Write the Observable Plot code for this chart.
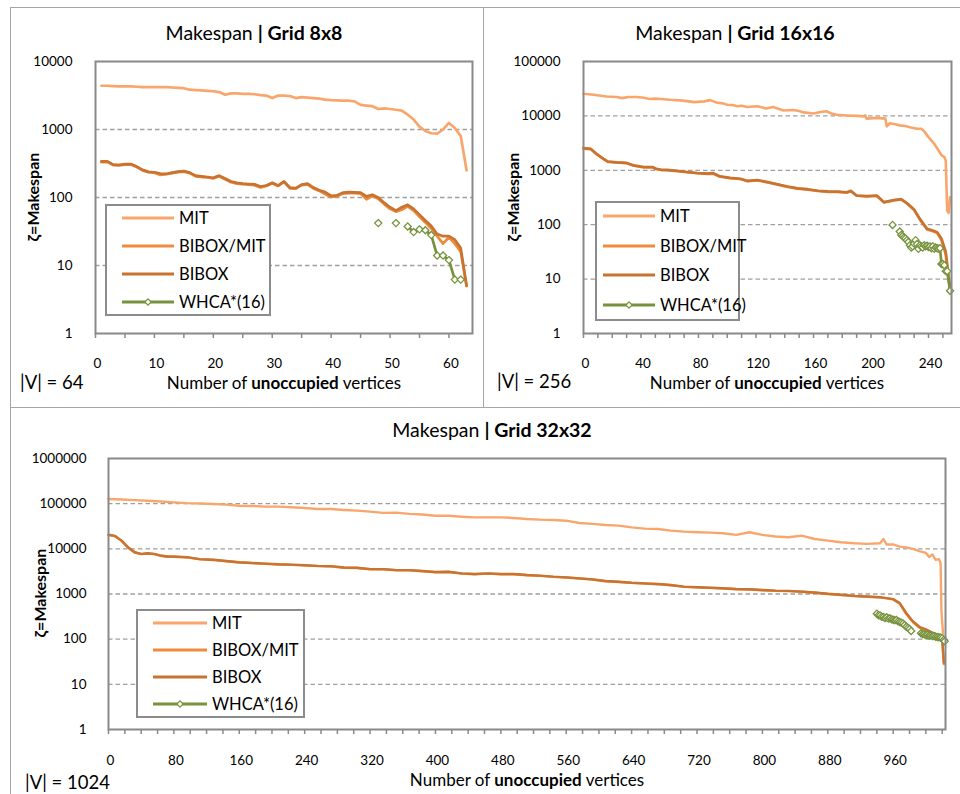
<!DOCTYPE html>
<html><head><meta charset="utf-8">
<script src="https://cdn.jsdelivr.net/npm/d3@7"></script>
<script src="https://cdn.jsdelivr.net/npm/@observablehq/plot@0.6"></script>
<style>
body{margin:0;background:#fff;font-family:Lato,"Noto Sans",sans-serif;color:#000;}
#root{position:relative;width:960px;height:794px;overflow:hidden;background:#fff;}
.box{position:absolute;border:1px solid #a6a6a6;box-sizing:border-box;}
.title{position:absolute;font-size:19.5px;white-space:nowrap;text-align:center;width:400px;line-height:20px;}
.xl{position:absolute;font-size:17px;white-space:nowrap;text-align:center;width:400px;line-height:15px;height:15px;}
.yl{position:absolute;font-size:16px;font-weight:bold;white-space:nowrap;text-align:center;width:200px;line-height:20px;transform:rotate(-90deg);}
.vv{position:absolute;font-size:18.5px;white-space:nowrap;line-height:16px;height:16px;}
.legend{position:absolute;border:2px solid #8c8c8c;background:#fff;box-sizing:border-box;}
.legend .row{position:absolute;height:20px;line-height:20px;font-size:16.5px;white-space:nowrap;}
.plotwrap{position:absolute;}
</style>
</head><body><div id="root"></div>
<script>
// ---------- series names & colours ----------
const seriesNames = ["MIT", "BIBOX/MIT", "BIBOX", "WHCA*(16)"];
const seriesColors = ["#F9A66C", "#EE8B3E", "#C8732F", "#76923C"];

// ---------- Grid 8x8 ----------
const g8X = [1,2,3,4,5,6,7,8,9,10,11,12,13,14,15,16,17,18,19,20,21,22,23,24,25,26,27,28,29,30,31,32,33,34,35,36,37,38,39,40,41,42,43,44,45,46,47,48,49,50,51,52,53,54,55,56,57,58,59,60,61,62,63];
const g8MIT = [4400,4400,4350,4300,4300,4300,4250,4200,4200,4200,4200,4200,4150,4100,4050,3850,3800,3750,3700,3650,3550,3250,3400,3400,3350,3350,3300,3200,3150,2900,3150,3150,3100,2900,3000,2950,2900,2850,2750,2700,2680,2650,2650,2600,2300,2250,2200,2000,2050,2000,1950,1900,1650,1400,1100,950,880,870,1000,1250,1050,800,250];
const g8BIBOXMIT = [330,335,300,300,305,305,280,250,235,232,215,220,228,236,240,228,205,200,198,190,205,185,168,160,157,155,152,140,148,162,148,170,136,135,152,156,136,125,112,102,104,114,116,116,114,94,105,96,80,68,62,66,74,64,52,43,35,27,21,26,21,16,5];
const g8BIBOX = [340,340,305,300,310,310,285,255,238,235,225,222,232,240,245,232,210,205,200,195,210,190,172,165,160,158,156,145,150,165,150,172,140,137,155,160,140,128,120,106,108,118,120,119,118,104,110,100,84,72,64,72,78,68,56,46,38,29,27,27,24,18,5];
const g8WHCAX = [48,49,50,51,52,53,54,55,56,57,58,59,60,61,62];
const g8WHCA = [42,null,null,42,null,37.5,31,34,33,28,14,14,12,6.2,6.2];
const g8XTicks = [0,10,20,30,40,50,60];
const g8XMinor = [0,5,10,15,20,25,30,35,40,45,50,55,60];
const g8YTicks = [1,10,100,1000,10000];

// ---------- Grid 16x16 ----------
const g16MITX = [0,7,12,16,23,27,31,37,42,46,50,54,60,67,72,77,84,88,93,97,100,104,107,110,114,121,127,132,136,139,146,150,153,160,165,169,172,176,183,190,195,196,197,204,210,211,213,217,220,224,227,232,235,237,240,244,247,249,251,252,253,254,255];
const g16MIT = [25500,24400,23500,22700,22300,21200,22300,22300,21500,20400,20800,20500,19800,19300,18700,17900,18500,19500,17500,17000,16000,15800,15000,15400,14600,15000,13700,14600,13400,12600,12800,12300,11600,11100,11800,12200,11200,10500,10200,10000,9800,10200,8900,9200,8900,6400,7300,7000,6700,6500,6200,5800,5800,5200,4070,3070,2310,1900,1750,1500,180,165,320];
const g16BX = [0,5,9,14,17,23,30,35,42,48,50,54,58,65,72,79,86,90,95,102,109,114,121,128,135,142,149,156,163,170,177,183,186,190,197,204,209,216,221,225,230,234,239,243,246,249,252,253,255];
const g16BIBOXMIT = [2500,2450,1980,1600,1430,1390,1350,1210,1130,1140,1060,1010,1000,960,920,880,860,870,760,715,690,630,650,600,545,495,460,440,415,400,398,388,410,340,330,338,255,280,290,245,185,124,82,76,70,52,28,15,6];
const g16BIBOX = [2560,2480,2010,1620,1450,1400,1370,1230,1150,1150,1080,1020,1020,980,930,890,870,890,775,725,700,640,665,610,555,505,465,450,420,410,405,395,420,345,335,345,260,285,295,250,190,128,84,78,73,56,32,19,7];
const g16WHCAX = [215,216,220,221,222,223,224,225,226,227,228,229,230,231,232,233,234,235,236,237,238,239,240,241,242,243,244,245,246,247,248,249,250,251,252,253,255];
const g16WHCA = [99,null,75,65,62,58,56,52,48,42,38,40,45,52,44,36,42,40,38,42,40,41,39,40,37,40,36,38,37,36,37,19,19,18,14,14,6.1];
const g16XTicks = [0,40,80,120,160,200,240];
const g16XMinor = [0,10,20,30,40,50,60,70,80,90,100,110,120,130,140,150,160,170,180,190,200,210,220,230,240,250];
const g16YTicks = [1,10,100,1000,10000,100000];

// ---------- Grid 32x32 ----------
const g32MITX = [0,16,32,48,64,80,96,112,128,144,160,176,192,208,224,240,256,272,288,304,320,336,352,368,384,400,416,432,448,464,480,496,512,528,544,560,576,592,608,624,640,656,672,688,704,720,736,752,768,784,800,816,832,848,864,880,896,912,928,944,948,952,960,968,976,984,992,1000,1004,1008,1012,1016,1018,1019,1021];
const g32MIT = [126800,124000,120000,116000,112000,106700,103000,101000,98000,95000,90000,89000,86000,86000,83000,80000,76000,76000,72500,70000,66500,62500,63500,59500,57500,54000,54000,51500,49800,49800,49800,48200,45800,44300,43600,42000,37400,35600,33800,32700,29900,28000,27500,25300,24000,23300,22900,22100,20400,23300,20400,18700,18000,19600,16500,15200,14000,13300,12900,13300,16500,12500,12500,11200,10800,10000,8900,8100,6600,7500,5700,5900,4800,430,132];
const g32BX = [0,8,16,24,32,40,48,56,64,72,80,96,112,128,144,160,176,192,208,224,240,256,272,288,304,320,336,352,368,384,400,416,432,448,464,480,496,512,528,544,560,576,592,608,624,640,656,672,688,704,720,736,752,768,784,800,816,832,848,864,880,896,912,928,944,952,960,968,976,984,992,1000,1008,1016,1020,1022];
const g32BIBOXMIT = [20200,19000,15000,10600,8300,7650,7850,7650,7000,6700,6650,6450,5850,5680,5300,4980,4820,4650,4500,4420,4300,4150,4080,3820,3760,3520,3520,3350,3350,3180,3030,3070,2830,2740,2820,2740,2740,2600,2520,2400,2320,2200,2090,1920,1850,1760,1700,1650,1560,1440,1400,1365,1325,1275,1255,1215,1175,1155,1120,1065,1000,950,900,870,840,800,760,610,360,240,180,160,135,118,95,28];
const g32BIBOX = [20600,19300,15200,10800,8400,7730,7980,7730,7100,6760,6760,6540,5930,5740,5380,5030,4870,4710,4550,4480,4340,4200,4130,3860,3800,3560,3560,3380,3380,3220,3060,3110,2860,2770,2860,2770,2770,2630,2550,2420,2340,2220,2110,1940,1870,1780,1720,1670,1580,1460,1410,1380,1340,1290,1270,1230,1190,1170,1130,1080,1010,960,910,880,850,810,770,630,380,250,188,165,140,122,100,30];
const g32WHCAX = [940,942,944,946,948,950,952,954,956,958,960,962,964,966,968,970,972,974,976,978,980,982,988,994,996,998,1000,1002,1004,1006,1008,1010,1012,1014,1016,1018,1020,1022,1023];
const g32WHCA = [366,340,335,315,309,295,305,285,290,275,270,262,265,248,240,232,222,205,188,178,168,152,null,135,130,128,124,125,121,120,117,117,113,112,110,109,105,97,90];
const g32XTicks = [0,80,160,240,320,400,480,560,640,720,800,880,960];
const g32XMinor = [0,20,40,60,80,100,120,140,160,180,200,220,240,260,280,300,320,340,360,380,400,420,440,460,480,500,520,540,560,580,600,620,640,660,680,700,720,740,760,780,800,820,840,860,880,900,920,940,960,980,1000,1020];
const g32YTicks = [1,10,100,1000,10000,100000,1000000];

// ---------- helpers ----------
const zip = (xs, ys) => xs.map((x, i) => ({x, y: ys[i]}));
const root = document.getElementById("root");
function el(cls, css, html) {
  const d = document.createElement("div");
  d.className = cls;
  Object.assign(d.style, css);
  if (html != null) d.innerHTML = html;
  root.appendChild(d);
  return d;
}

// panel frames
el("box", {left:"10px", top:"7px", width:"474px", height:"401px"});
el("box", {left:"483px", top:"7px", width:"490px", height:"401px"});
el("box", {left:"10px", top:"407px", width:"963px", height:"400px"});

function makePanel(p) {
  const lineW = p.lineW;
  const whca = zip(p.whcaX, p.whca);
  const plot = Plot.plot({
    width: p.w, height: p.h,
    marginTop: p.mt, marginRight: p.mr, marginBottom: p.mb, marginLeft: p.ml,
    x: {type: "linear", domain: p.xDomain, label: null},
    y: {type: "log", domain: p.yDomain, label: null},
    style: {fontFamily: "Lato, 'Noto Sans', sans-serif", fontSize: "13.5px", color: "#000", background: "transparent", overflow: "visible"},
    marks: [
      Plot.gridY(p.grid, {stroke: "#a0a0a0", strokeOpacity: 1, strokeWidth: 1.3, strokeDasharray: "4.5,3"}),
      Plot.line(p.mit, {x: "x", y: "y", stroke: seriesColors[0], strokeWidth: lineW}),
      Plot.line(p.bm, {x: "x", y: "y", stroke: seriesColors[1], strokeWidth: lineW}),
      Plot.line(p.b, {x: "x", y: "y", stroke: seriesColors[2], strokeWidth: lineW}),
      Plot.line(whca, {x: "x", y: "y", stroke: seriesColors[3], strokeWidth: lineW}),
      Plot.dot(whca.filter(d => d.y != null), {x: "x", y: "y", symbol: "diamond2", r: 3.2, stroke: seriesColors[3], fill: "white", strokeWidth: 1.3}),
      Plot.frame({stroke: "#898989", strokeWidth: 2}),
      Plot.axisY(p.yTicks, {tickSize: 0, tickPadding: p.yPad, tickFormat: d => String(d), label: null}),
      Plot.axisX(p.xMinor, {tickSize: 5, tickFormat: () => "", label: null, stroke: "#898989", strokeWidth: 1.5}),
      Plot.axisX(p.xTicks, {tickSize: 0, tickPadding: p.xPad, tickFormat: d => String(d), label: null, dx: 2})
    ]
  });
  const wrap = el("plotwrap", {left: p.left + "px", top: p.top + "px"});
  wrap.appendChild(plot);
}

function legend(L) {
  const box = el("legend", {left: L.left + "px", top: L.top + "px", width: L.w + "px", height: L.h + "px"});
  seriesNames.forEach((name, i) => {
    const cy = L.ys[i] - L.top - 2;
    const row = document.createElement("div");
    row.className = "row";
    Object.assign(row.style, {left: (L.lx0 - L.left - 2) + "px", top: (cy - 10) + "px"});
    const lw = L.lx1 - L.lx0;
    let svg = `<svg width="${lw}" height="20" style="position:absolute;left:0;top:0;overflow:visible"><line x1="0" x2="${lw}" y1="10" y2="10" stroke="${seriesColors[i]}" stroke-width="3"/>`;
    if (i === 3) svg += `<rect x="${lw/2-2.2}" y="7.8" width="4.4" height="4.4" transform="rotate(45 ${lw/2} 10)" fill="white" stroke="${seriesColors[3]}" stroke-width="1.2"/>`;
    svg += `</svg>`;
    row.innerHTML = svg + `<span style="position:absolute;left:${L.tx - L.lx0}px;top:0">${name}</span>`;
    box.appendChild(row);
  });
}

function texts(t) {
  el("title", {left: (t.titleX - 200) + "px", top: (t.titleY - 10) + "px"}, `Makespan <b>| Grid ${t.grid}</b>`);
  el("xl", {left: (t.xlX - 200) + "px", top: (t.xlY - 7.5) + "px"}, `Number of <b>unoccupied</b> vertices`);
  el("yl", {left: (t.ylX - 100) + "px", top: (t.ylY - 10) + "px"}, `ζ=Makespan`);
  el("vv", {left: t.vX + "px", top: (t.vY - 8) + "px"}, `|V| = ${t.v}`);
}

// ---------- Panel 1 ----------
makePanel({left: 10, top: 7, w: 473, h: 400, mt: 54, mr: 11, mb: 74, ml: 85,
  xDomain: [0, 64], yDomain: [1, 10000], grid: [10, 100, 1000],
  yTicks: g8YTicks, xTicks: g8XTicks, xMinor: g8XMinor, yPad: 23, xPad: 25, lineW: 2.7,
  mit: zip(g8X, g8MIT), bm: zip(g8X, g8BIBOXMIT), b: zip(g8X, g8BIBOX), whcaX: g8WHCAX, whca: g8WHCA});
legend({left: 105, top: 204, w: 166, h: 112, ys: [218, 246, 274, 302], lx0: 122, lx1: 174, tx: 179});
texts({grid: "8x8", titleX: 254, titleY: 33, xlX: 284, xlY: 382, ylX: 33, ylY: 197, vX: 20, vY: 382, v: 64});

// ---------- Panel 2 ----------
makePanel({left: 483, top: 7, w: 477, h: 400, mt: 54, mr: 9, mb: 74, ml: 100,
  xDomain: [0, 256], yDomain: [1, 100000], grid: [10, 100, 1000, 10000],
  yTicks: g16YTicks, xTicks: g16XTicks, xMinor: g16XMinor, yPad: 23, xPad: 25, lineW: 2.6,
  mit: zip(g16MITX, g16MIT), bm: zip(g16BX, g16BIBOXMIT), b: zip(g16BX, g16BIBOX), whcaX: g16WHCAX, whca: g16WHCA});
legend({left: 595, top: 201, w: 145, h: 120, ys: [216, 246, 275, 305], lx0: 603, lx1: 655, tx: 660});
texts({grid: "16x16", titleX: 735, titleY: 33, xlX: 767, xlY: 382, ylX: 513, ylY: 197, vX: 497, vY: 381, v: 256});

// ---------- Panel 3 ----------
makePanel({left: 10, top: 407, w: 950, h: 387, mt: 51, mr: 15, mb: 65, ml: 98,
  xDomain: [0, 1024], yDomain: [1, 1000000], grid: [10, 100, 1000, 10000, 100000],
  yTicks: g32YTicks, xTicks: g32XTicks, xMinor: g32XMinor, yPad: 22, xPad: 26, lineW: 2.4,
  mit: zip(g32MITX, g32MIT), bm: zip(g32BX, g32BIBOXMIT), b: zip(g32BX, g32BIBOX), whcaX: g32WHCAX, whca: g32WHCA});
legend({left: 136, top: 609, w: 169, h: 109, ys: [623, 650, 677, 704], lx0: 153, lx1: 207, tx: 212});
texts({grid: "32x32", titleX: 492, titleY: 430, xlX: 527, xlY: 779, ylX: 40, ylY: 593, vX: 25, vY: 782, v: 1024});
</script>
</body></html>
